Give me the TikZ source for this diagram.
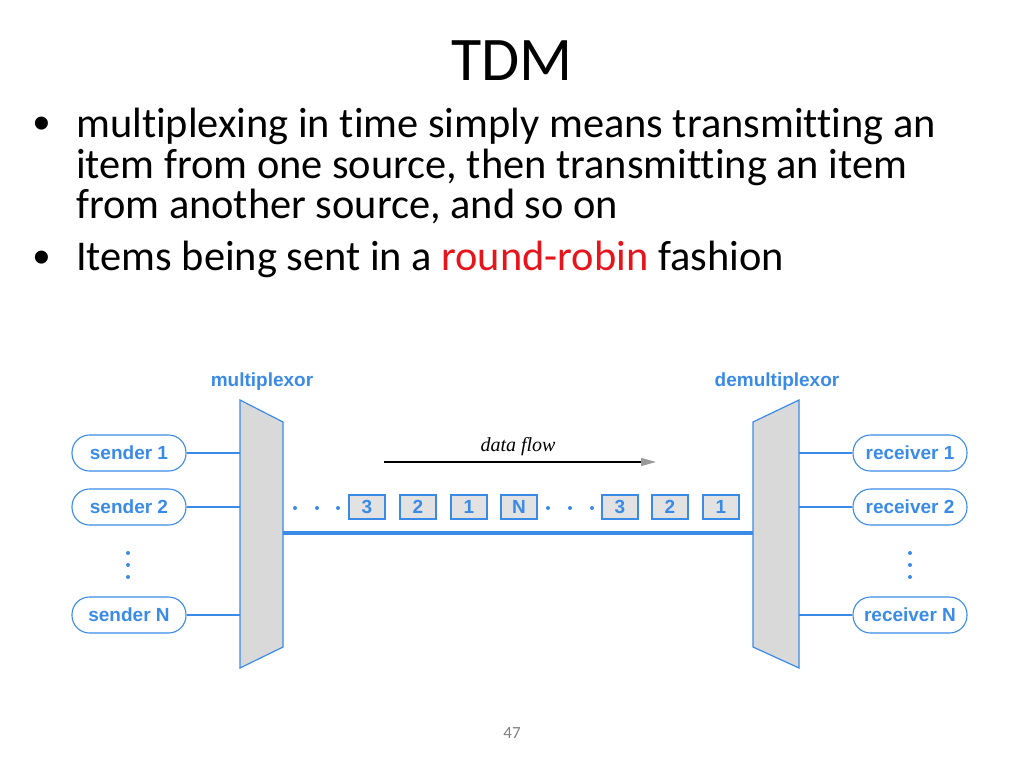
\documentclass[tikz,border=0pt]{standalone}
\usepackage{fontspec}
\setmainfont{Carlito}[Ligatures={NoCommon,NoDiscretionary,NoRare}]
\newfontfamily\diagfont{Liberation Sans}
\newfontfamily\flowfont{Liberation Serif}
\newfontfamily\bulfont{Liberation Sans}
\usetikzlibrary{arrows.meta}
\definecolor{dblue}{HTML}{3A8BE8}
\definecolor{mgray}{HTML}{D9D9D9}
\definecolor{bgray}{HTML}{E2E2E2}
\definecolor{rred}{HTML}{E8141B}
\tikzset{
  bodytext/.style={font=\fontsize{42.4}{46}\selectfont, anchor=base west, inner sep=0pt},
  bulletmark/.style={font=\bulfont\fontsize{48}{50}\selectfont, anchor=center, inner sep=0pt},
  endpoint/.style={draw=dblue, line width=1.1pt, rounded corners=17.5pt, minimum width=114pt, minimum height=36pt, inner sep=0pt, text=dblue, font=\diagfont\bfseries\fontsize{19}{22}\selectfont},
  muxshape/.style={draw=dblue, fill=mgray, line width=1.2pt},
  wire/.style={draw=dblue, line width=1.2pt},
  channel/.style={draw=dblue, line width=4pt},
  item/.style={draw=dblue, fill=bgray, line width=1.2pt, minimum width=36pt, minimum height=24pt, inner sep=0pt, text=dblue, font=\diagfont\bfseries\fontsize{19}{21}\selectfont},
  blabel/.style={text=dblue, font=\diagfont\bfseries\fontsize{19}{22}\selectfont, inner sep=0pt},
  dotmark/.style={fill=dblue, draw=none},
}
\begin{document}
\begin{tikzpicture}[x=1pt,y=-1pt]
\useasboundingbox (0,0) rectangle (1024,768);
% title
\node[font=\fontsize{62}{66}\selectfont, anchor=base, inner sep=0pt] (title) at (512,80) {TDM};
% bullets
\node[bulletmark] (b1) at (42,128) {•};
\node[bodytext] (l1) at (76,137) {multiplexing in time simply means transmitting an};
\node[bodytext] (l2) at (76,178) {item from one source, then transmitting an item};
\node[bodytext] (l3) at (76,218) {from another source, and so on};
\node[bulletmark] (b2) at (42,262) {•};
\node[bodytext] (l4) at (76,270) {Items being sent in a \textcolor{rred}{round-robin} fashion};
% multiplexor / demultiplexor
\path[muxshape] (240,400) -- (283,422) -- (283,647) -- (240,668) -- cycle;
\path[muxshape] (753,422) -- (799,400) -- (799,668) -- (753,647) -- cycle;
\coordinate (muxL) at (240,500);
\coordinate (muxR) at (283,533);
\coordinate (demL) at (753,533);
\coordinate (demR) at (799,500);
\node[blabel] (mlab) at (262,382) {multiplexor};
\node[blabel] (dlab) at (777,382) {demultiplexor};
% senders
\node[endpoint] (s1) at (129,453) {sender 1};
\node[endpoint] (s2) at (129,507) {sender 2};
\node[endpoint] (sN) at (129,615) {sender N};
\node[endpoint] (r1) at (910,453) {receiver 1};
\node[endpoint] (r2) at (910,507) {receiver 2};
\node[endpoint] (rN) at (910,615) {receiver N};
\foreach \n in {s1,s2,sN}{\draw[wire] (\n.east) -- (\n.east -| muxL);}
\foreach \n in {r1,r2,rN}{\draw[wire] (\n.west) -- (\n.west -| demR);}
\foreach \yy in {553,565,577}{
  \fill[dotmark] (128,\yy) circle (2pt);
  \fill[dotmark] (910,\yy) circle (2pt);
}
% channel
\draw[channel] (muxR) -- (demL);
% data flow
\coordinate (fa) at (384,462);
\coordinate (fb) at (656,462);
\draw[line width=1.2pt, -{Triangle[length=15pt,width=8pt,color=gray!80]}] (fa) -- (fb);
\node[font=\flowfont\itshape\fontsize{20}{22}\selectfont, inner sep=0pt] (flow) at (518,447) {data flow};
% items
\node[item] (i1) at (367,507) {3};
\node[item] (i2) at (418,507) {2};
\node[item] (i3) at (469,507) {1};
\node[item] (i4) at (519,507) {N};
\node[item] (i5) at (620,507) {3};
\node[item] (i6) at (670,507) {2};
\node[item] (i7) at (721,507) {1};
\foreach \xx in {295,317,338,548,570,592}{\fill[dotmark] (\xx,508) circle (2pt);}
% page number
\node[font=\fontsize{17}{19}\selectfont, text=gray, inner sep=0pt] (pg) at (512,733) {47};
\end{tikzpicture}
\end{document}
